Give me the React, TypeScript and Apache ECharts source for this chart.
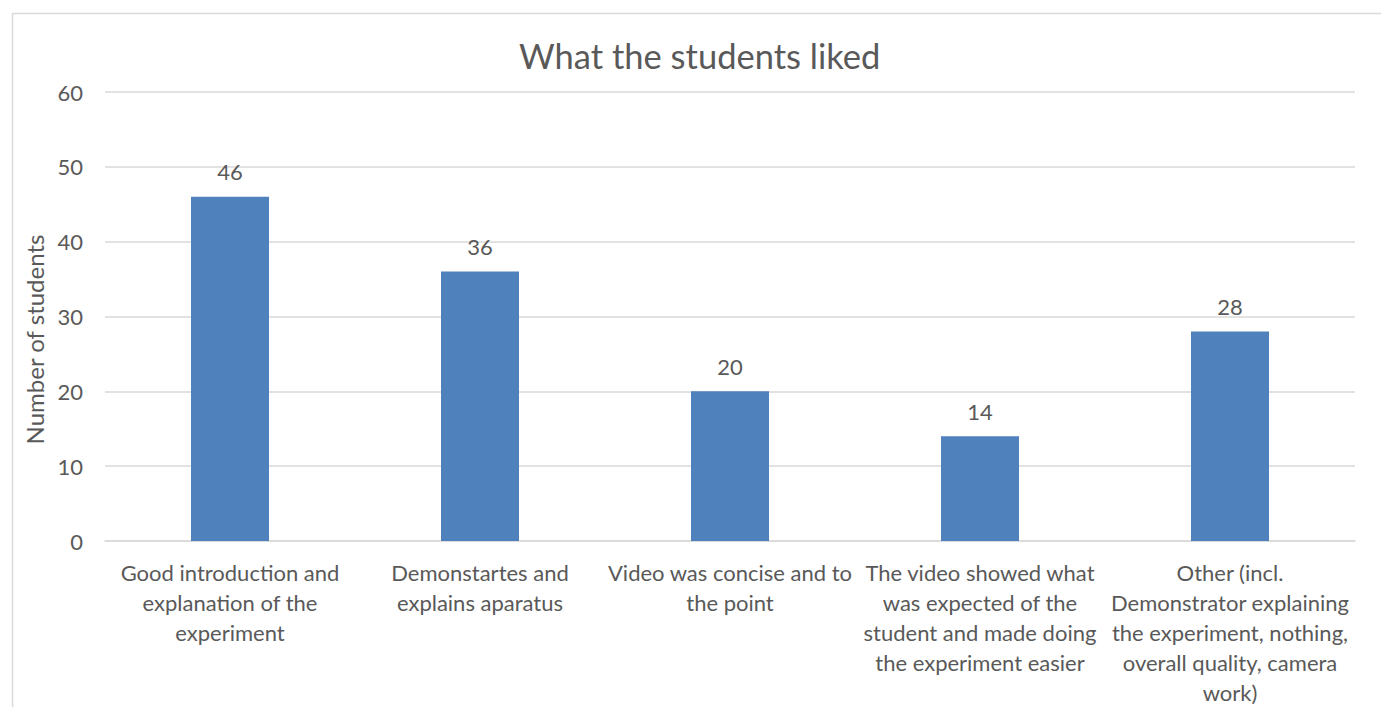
import React, { useEffect, useRef } from "react";
import * as echarts from "echarts";

const categories = [
  "Good introduction and\nexplanation of the\nexperiment",
  "Demonstartes and\nexplains aparatus",
  "Video was concise and to\nthe point",
  "The video showed what\nwas expected of the\nstudent and made doing\nthe experiment easier",
  "Other (incl.\nDemonstrator explaining\nthe experiment, nothing,\noverall quality, camera\nwork)",
];
const values = [46, 36, 20, 14, 28];
const yTicks = { min: 0, max: 60, interval: 10 };

const FONT = "Lato, 'Open Sans', sans-serif";
const TXT = "#595959";

export default function App() {
  const ref = useRef<HTMLDivElement>(null);
  useEffect(() => {
    const chart = echarts.init(ref.current!, null, { renderer: "svg" });
    chart.setOption({
      animation: false,
      backgroundColor: "#ffffff",
      title: {
        text: "What the students liked",
        left: 514,
        top: 33,
        textStyle: { color: TXT, fontFamily: FONT, fontSize: 34.5, fontWeight: "normal" },
      },
      graphic: [
        {
          type: "rect",
          left: 10,
          top: 11,
          shape: { width: 1400, height: 800 },
          style: { fill: "none", stroke: "#d9d9d9", lineWidth: 1.5 },
          silent: true,
        },
      ],
      grid: { left: 105, right: 26, top: 92, bottom: 165, containLabel: false },
      xAxis: {
        type: "category",
        data: categories,
        axisLine: { show: true, lineStyle: { color: "#d9d9d9", width: 1.5 } },
        axisTick: { show: false },
        axisLabel: {
          interval: 0,
          color: TXT,
          fontFamily: FONT,
          fontSize: 22,
          lineHeight: 30,
          margin: 16,
          align: "center",
        },
      },
      yAxis: {
        type: "value",
        min: yTicks.min,
        max: yTicks.max,
        interval: yTicks.interval,
        name: "Number of students",
        nameLocation: "middle",
        nameGap: 58,
        nameTextStyle: {
          color: TXT,
          fontFamily: FONT,
          fontSize: 24,
          padding: [0, 46, 0, 0],
        },
        axisLine: { show: false },
        axisTick: { show: false },
        axisLabel: { color: TXT, fontFamily: FONT, fontSize: 22, margin: 22 },
        splitLine: { lineStyle: { color: "#d9d9d9", width: 1.5 } },
      },
      series: [
        {
          type: "bar",
          data: values,
          barWidth: "31.2%",
          itemStyle: { color: "#4f81bd" },
          label: {
            show: true,
            position: "top",
            distance: 14,
            color: TXT,
            fontFamily: FONT,
            fontSize: 22,
          },
        },
      ],
    });
    return () => chart.dispose();
  }, []);
  return (
    <div
      ref={ref}
      style={{ position: "absolute", left: 0, top: 0, width: 1381, height: 707 }}
    />
  );
}
